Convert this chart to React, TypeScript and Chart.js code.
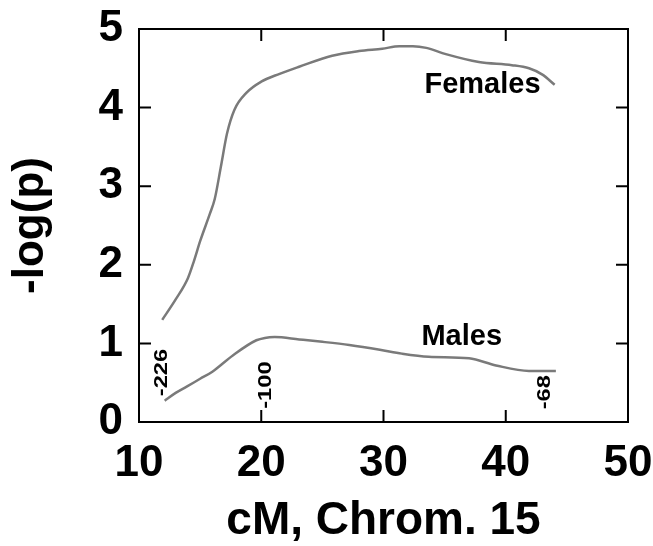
import React, { useEffect, useRef } from "react";
import { Chart, registerables } from "chart.js";

Chart.register(...registerables);

// ---- data ----
const femaleCM = [11.9, 13.0, 14.0, 14.5, 15.0, 15.8, 16.2, 16.7, 17.2, 17.8, 18.8, 20.0, 21.5, 23.1, 25.8, 28.0, 29.9, 31.3, 32.4, 33.5, 35.1, 37.8, 40.5, 41.9, 43.0, 44.0];
const femaleLogP = [1.30, 1.56, 1.83, 2.05, 2.30, 2.65, 2.84, 3.25, 3.67, 3.97, 4.19, 4.33, 4.43, 4.52, 4.66, 4.72, 4.75, 4.78, 4.78, 4.76, 4.68, 4.58, 4.54, 4.50, 4.42, 4.29];

const maleCM = [12.1, 13.0, 13.9, 15.0, 16.0, 17.7, 19.6, 20.3, 21.1, 23.1, 25.0, 27.2, 29.7, 31.5, 33.7, 37.0, 39.2, 41.9, 44.1];
const maleLogP = [0.27, 0.37, 0.45, 0.55, 0.64, 0.85, 1.04, 1.07, 1.08, 1.05, 1.02, 0.98, 0.92, 0.87, 0.83, 0.81, 0.72, 0.65, 0.65];

const xTickValues = [10, 20, 30, 40, 50];
const yTickValues = [0, 1, 2, 3, 4, 5];

const markerLabels = ["-226", "-100", "-68"];
const markerCM = [11.9, 20.4, 43.2];
const markerLogP = [0.63, 0.47, 0.38];

const seriesNames = ["Females", "Males"];
const seriesLabelCM = [38.1, 36.4];
const seriesLabelLogP = [4.29, 1.08];

const xTitle = "cM, Chrom. 15";
const yTitle = "-log(p)";

const FONT = '"Liberation Sans", Arial, Helvetica, sans-serif';

const framePlugin = {
  id: "frameAndTicks",
  afterDraw(chart: any) {
    const { ctx, chartArea } = chart;
    const xs = chart.scales.x;
    const ys = chart.scales.y;
    const { left, right, top, bottom } = chartArea;
    ctx.save();
    ctx.strokeStyle = "#000";
    ctx.lineWidth = 2;
    ctx.strokeRect(left, top, right - left, bottom - top);
    const tl = 12;
    ctx.beginPath();
    xTickValues.forEach((v) => {
      if (v <= xs.min || v >= xs.max) return;
      const px = xs.getPixelForValue(v);
      ctx.moveTo(px, bottom);
      ctx.lineTo(px, bottom - tl);
      ctx.moveTo(px, top);
      ctx.lineTo(px, top + tl);
    });
    yTickValues.forEach((v) => {
      if (v <= ys.min || v >= ys.max) return;
      const py = ys.getPixelForValue(v);
      ctx.moveTo(left, py);
      ctx.lineTo(left + tl, py);
      ctx.moveTo(right, py);
      ctx.lineTo(right - tl, py);
    });
    ctx.stroke();

    // rotated marker labels
    ctx.fillStyle = "#000";
    ctx.font = `bold 19px ${FONT}`;
    ctx.textAlign = "center";
    ctx.textBaseline = "middle";
    markerLabels.forEach((t, i) => {
      const px = xs.getPixelForValue(markerCM[i]);
      const py = ys.getPixelForValue(markerLogP[i]);
      ctx.save();
      ctx.translate(px, py);
      ctx.rotate(-Math.PI / 2);
      ctx.scale(1.25, 1);
      ctx.fillText(t, 0, 0);
      ctx.restore();
    });

    // series names
    ctx.font = `bold 29px ${FONT}`;
    seriesNames.forEach((t, i) => {
      const px = xs.getPixelForValue(seriesLabelCM[i]);
      const py = ys.getPixelForValue(seriesLabelLogP[i]);
      ctx.fillText(t, px, py);
    });
    ctx.restore();
  },
};

export default function App() {
  const ref = useRef<HTMLCanvasElement>(null);

  useEffect(() => {
    const canvas = ref.current;
    if (!canvas) return;
    const chart = new Chart(canvas, {
      type: "line",
      data: {
        datasets: [
          {
            label: seriesNames[0],
            data: femaleCM.map((x, i) => ({ x, y: femaleLogP[i] })),
            borderColor: "#7a7a7a",
            borderWidth: 2.5,
            pointRadius: 0,
            cubicInterpolationMode: "monotone",
            fill: false,
          },
          {
            label: seriesNames[1],
            data: maleCM.map((x, i) => ({ x, y: maleLogP[i] })),
            borderColor: "#7a7a7a",
            borderWidth: 2.5,
            pointRadius: 0,
            cubicInterpolationMode: "monotone",
            fill: false,
          },
        ],
      },
      options: {
        responsive: false,
        animation: false,
        layout: { padding: { top: 29, right: 25, left: 0, bottom: 0 } },
        plugins: {
          legend: { display: false },
          tooltip: { enabled: false },
        },
        scales: {
          x: {
            type: "linear",
            min: 10,
            max: 50,
            afterBuildTicks: (scale: any) => {
              scale.ticks = xTickValues.map((v) => ({ value: v }));
            },
            afterFit: (scale: any) => {
              scale.height = 124;
              scale.paddingLeft = 0;
              scale.paddingRight = 0;
            },
            grid: { display: false, drawTicks: false },
            border: { display: false },
            ticks: {
              autoSkip: false,
              maxRotation: 0,
              padding: 20,
              color: "#000",
              font: { family: FONT, size: 44, weight: "bold", lineHeight: 1 },
            },
            title: {
              display: true,
              text: xTitle,
              color: "#000",
              font: { family: FONT, size: 46, weight: "bold", lineHeight: 1 },
              padding: { top: 0, bottom: 2 },
            },
          },
          y: {
            type: "linear",
            min: 0,
            max: 5,
            afterBuildTicks: (scale: any) => {
              scale.ticks = yTickValues.map((v) => ({ value: v }));
            },
            afterFit: (scale: any) => {
              scale.width = 139;
              scale.paddingTop = 0;
              scale.paddingBottom = 0;
            },
            grid: { display: false, drawTicks: false },
            border: { display: false },
            ticks: {
              autoSkip: false,
              padding: 16,
              color: "#000",
              font: { family: FONT, size: 44, weight: "bold", lineHeight: 1 },
            },
            title: {
              display: true,
              text: yTitle,
              color: "#000",
              font: { family: FONT, size: 44, weight: "bold", lineHeight: 1 },
              padding: { top: 9, bottom: 0 },
            },
          },
        },
      },
      plugins: [framePlugin],
    });
    return () => chart.destroy();
  }, []);

  return (
    <div style={{ position: "fixed", left: 0, top: 0, width: 653, height: 546, background: "#fff" }}>
      <canvas ref={ref} width={653} height={546} />
    </div>
  );
}
